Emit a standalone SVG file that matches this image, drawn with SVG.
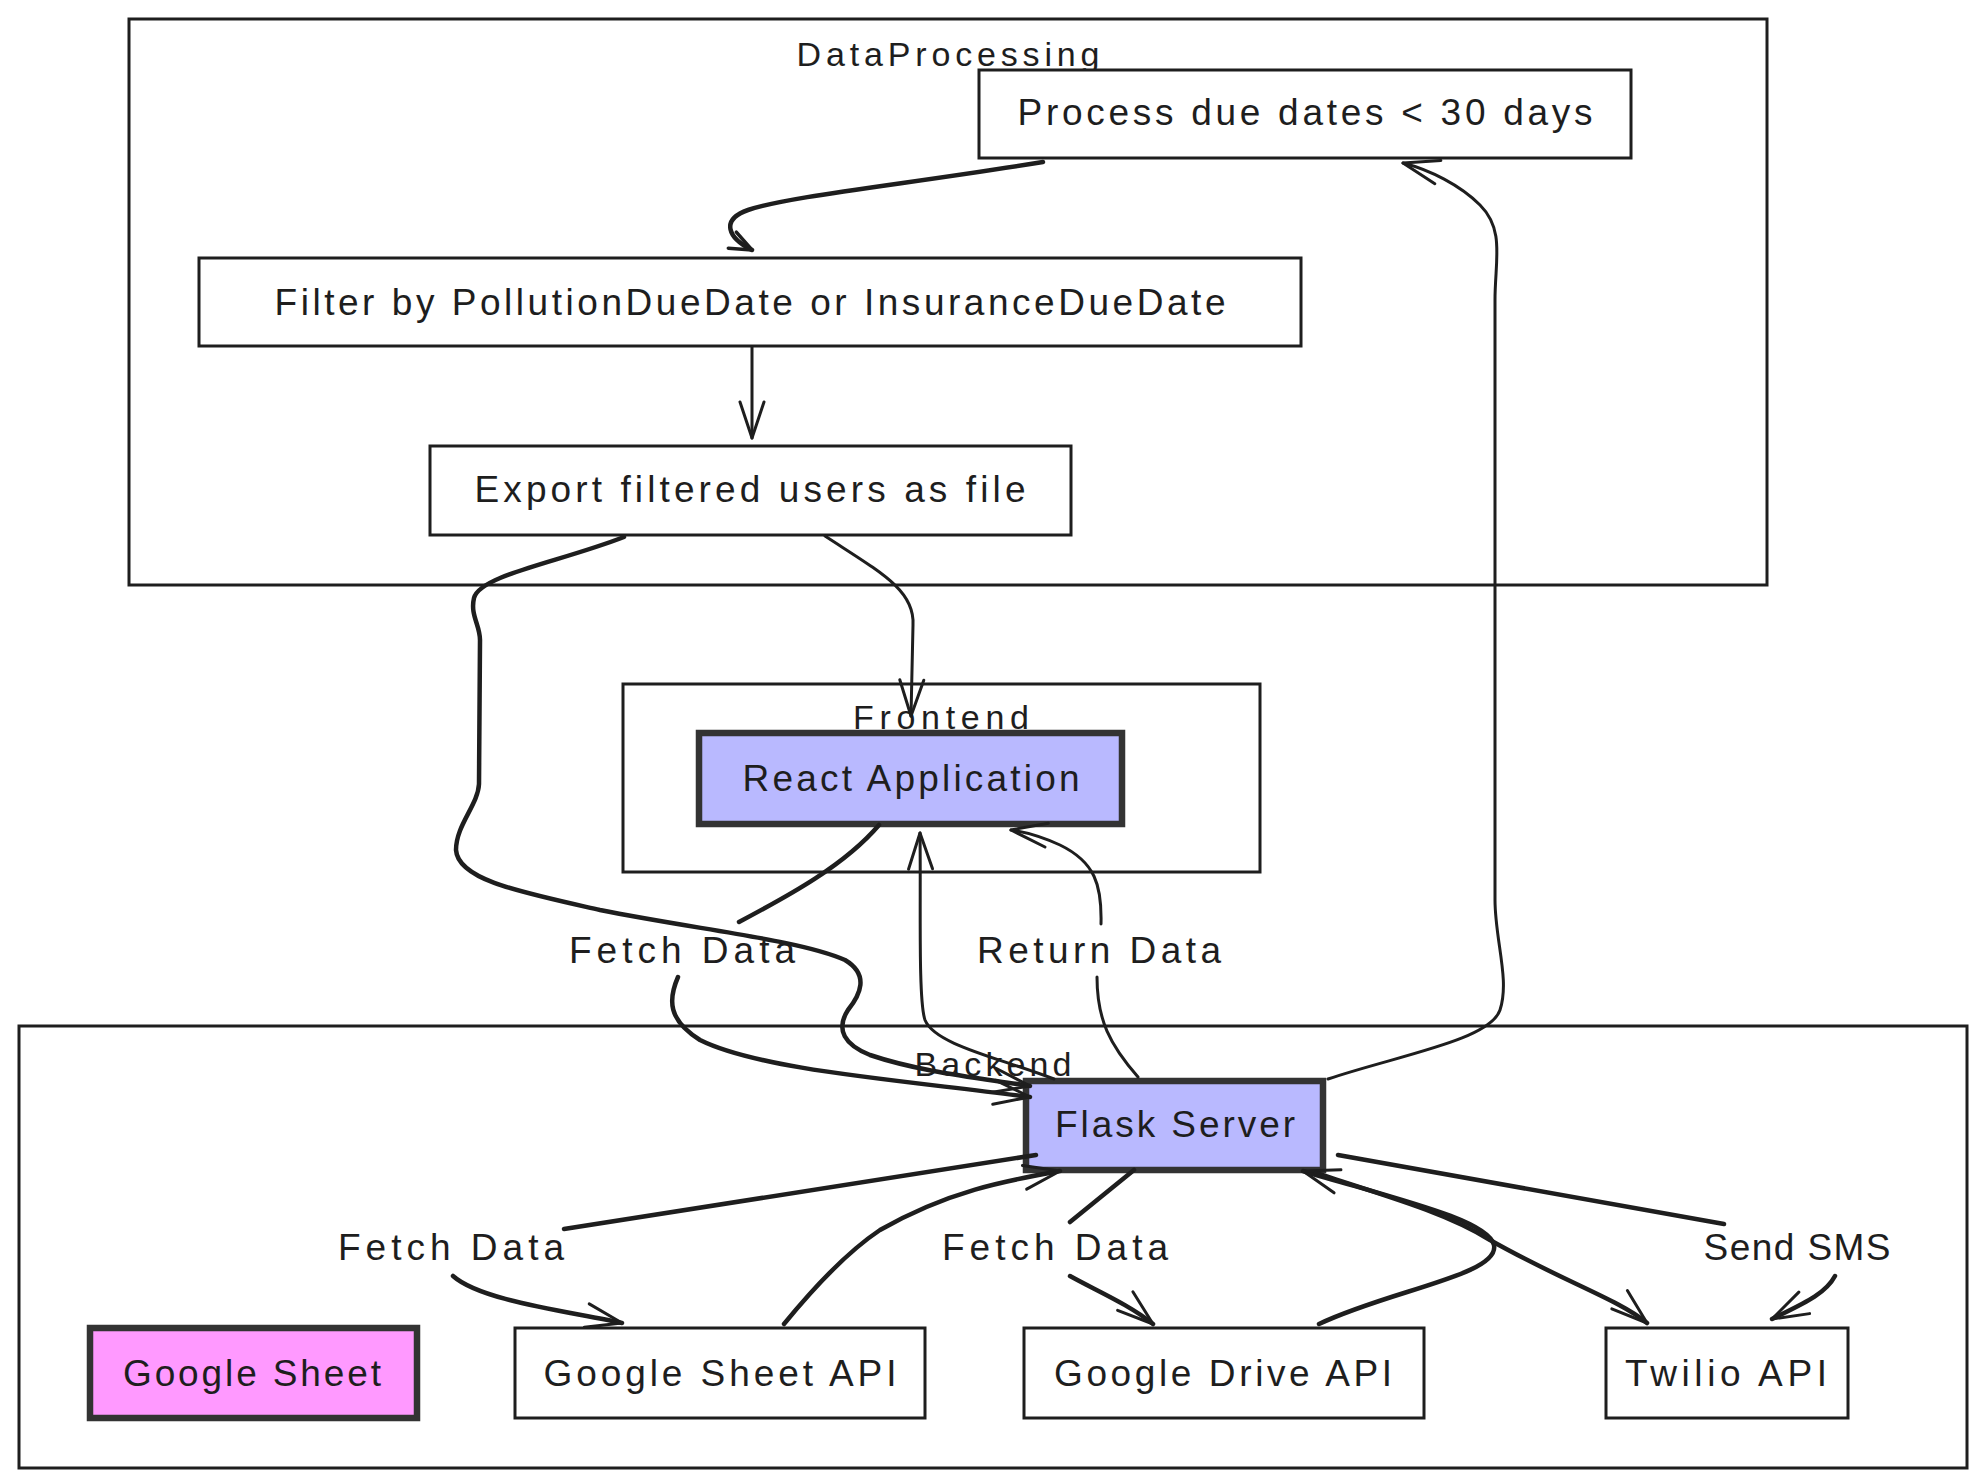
<svg xmlns="http://www.w3.org/2000/svg" width="1984" height="1484" viewBox="0 0 1984 1484">
<style>
  .bg { fill: #ffffff; }
  .cluster { fill: none; stroke: #1e1e1e; stroke-width: 3; }
  .node { fill: #ffffff; stroke: #1e1e1e; stroke-width: 3; }
  .blue { fill: #b9b9ff; stroke: #333333; stroke-width: 6.5; }
  .pink { fill: #ff99ff; stroke: #333333; stroke-width: 6.5; }
  .edge { fill: none; stroke: #1e1e1e; stroke-width: 3; stroke-linecap: round; stroke-linejoin: round; }
  .thick { stroke-width: 4.5; }
  text { font-family: "Liberation Sans", "DejaVu Sans", sans-serif; fill: #1e1e1e; text-anchor: middle; }
  .lbl { font-size: 37px; }
  .clbl { font-size: 34px; }
</style>
<defs>
  <marker id="arr" viewBox="-44 -22 48 44" refX="0" refY="0" markerWidth="48" markerHeight="44" markerUnits="userSpaceOnUse" orient="auto" overflow="visible">
    <path d="M-36,-12 L0,0 L-36,12" fill="none" stroke="#1e1e1e" stroke-width="3" stroke-linecap="round" stroke-linejoin="round"/>
  </marker>
  <marker id="arrS" viewBox="-30 -16 34 32" refX="0" refY="0" markerWidth="34" markerHeight="32" markerUnits="userSpaceOnUse" orient="auto" overflow="visible">
    <path d="M-22,-9 L0,0 L-22,9" fill="none" stroke="#1e1e1e" stroke-width="3.5" stroke-linecap="round" stroke-linejoin="round"/>
  </marker>
</defs>
<rect class="bg" x="0" y="0" width="1984" height="1484"/>

<g id="cluster-dataprocessing">
  <rect class="cluster" x="129" y="19" width="1638" height="566"/>
  <text class="clbl" x="948" y="66" textLength="303" lengthAdjust="spacing">DataProcessing</text>
</g>
<g id="cluster-frontend">
  <rect class="cluster" x="623" y="684" width="637" height="188"/>
  <text class="clbl" x="941" y="729" textLength="176" lengthAdjust="spacing">Frontend</text>
</g>
<g id="cluster-backend">
  <rect class="cluster" x="19" y="1026" width="1948" height="442"/>
  <text class="clbl" x="993" y="1076" textLength="157" lengthAdjust="spacing">Backend</text>
</g>

<g id="node-process">
  <rect class="node" x="979" y="70" width="652" height="88"/>
  <text class="lbl" x="1305" y="125" textLength="575" lengthAdjust="spacing">Process due dates &lt; 30 days</text>
</g>
<g id="node-filter">
  <rect class="node" x="199" y="258" width="1102" height="88"/>
  <text class="lbl" x="750" y="315" textLength="951" lengthAdjust="spacing">Filter by PollutionDueDate or InsuranceDueDate</text>
</g>
<g id="node-export">
  <rect class="node" x="430" y="446" width="641" height="89"/>
  <text class="lbl" x="750" y="502" textLength="551" lengthAdjust="spacing">Export filtered users as file</text>
</g>
<g id="node-react">
  <rect class="blue" x="699" y="733" width="423" height="91"/>
  <text class="lbl" x="911" y="791" textLength="337" lengthAdjust="spacing">React Application</text>
</g>
<g id="node-flask">
  <rect class="blue" x="1026" y="1081" width="297" height="89"/>
  <text class="lbl" x="1175" y="1137" textLength="240" lengthAdjust="spacing">Flask Server</text>
</g>
<g id="node-googlesheet">
  <rect class="pink" x="90" y="1328" width="327" height="90"/>
  <text class="lbl" x="252" y="1386" textLength="258" lengthAdjust="spacing">Google Sheet</text>
</g>
<g id="node-gsapi">
  <rect class="node" x="515" y="1328" width="410" height="90"/>
  <text class="lbl" x="720" y="1386" textLength="353" lengthAdjust="spacing">Google Sheet API</text>
</g>
<g id="node-gdapi">
  <rect class="node" x="1024" y="1328" width="400" height="90"/>
  <text class="lbl" x="1223" y="1386" textLength="338" lengthAdjust="spacing">Google Drive API</text>
</g>
<g id="node-twilio">
  <rect class="node" x="1606" y="1328" width="242" height="90"/>
  <text class="lbl" x="1726" y="1386" textLength="202" lengthAdjust="spacing">Twilio API</text>
</g>

<g id="connectors">
  <path class="edge thick" marker-end="url(#arrS)" d="M1043,162 C 900,185 790,196 748,210 C 720,220 728,238 752,250"/>
  <path class="edge" marker-end="url(#arr)" d="M752,347 L752,438"/>
  <path class="edge" marker-end="url(#arr)" d="M825,536 C 880,572 915,590 913,625 L911,716"/>
  <path class="edge thick" marker-end="url(#arr)" d="M624,537 C 560,562 480,575 474,598 C 470,615 480,625 480,640 L479,784 C 478,805 456,825 456,850 C 458,880 520,892 600,910 C 700,930 800,940 845,960 C 870,975 860,995 848,1010 C 835,1030 845,1045 870,1055 C 920,1072 980,1078 1030,1086"/>
  <path class="edge thick" marker-end="url(#arr)" d="M879,825 C 845,865 790,895 739,922 M678,977 C 668,1000 668,1020 700,1040 C 760,1070 900,1080 1030,1097"/>
  <text class="lbl" x="682" y="963" textLength="226" lengthAdjust="spacing">Fetch Data</text>
  <path class="edge" marker-end="url(#arr)" d="M1054,1079 C 1000,1058 935,1045 925,1020 C 918,1000 921,900 920,833"/>
  <path class="edge" marker-end="url(#arr)" d="M1138,1077 C 1110,1045 1097,1020 1097,977 M1101,924 C 1102,885 1095,862 1060,845 C 1040,836 1025,832 1011,830"/>
  <text class="lbl" x="1099" y="963" textLength="244" lengthAdjust="spacing">Return Data</text>
  <path class="edge" marker-end="url(#arr)" d="M1328,1079 C 1400,1055 1490,1040 1500,1010 C 1510,980 1495,940 1495,900 L1495,300 C 1495,260 1505,230 1480,205 C 1460,185 1430,170 1403,163"/>
  <path class="edge thick" marker-end="url(#arr)" d="M1036,1155 L564,1229 M453,1276 C 480,1300 560,1310 622,1323"/>
  <text class="lbl" x="451" y="1260" textLength="226" lengthAdjust="spacing">Fetch Data</text>
  <path class="edge thick" marker-end="url(#arr)" d="M784,1324 C 820,1280 850,1250 880,1230 C 950,1190 1010,1180 1060,1171"/>
  <path class="edge thick" marker-end="url(#arr)" d="M1134,1170 L1070,1222 M1070,1276 C 1095,1290 1130,1305 1153,1324"/>
  <text class="lbl" x="1055" y="1260" textLength="226" lengthAdjust="spacing">Fetch Data</text>
  <path class="edge thick" marker-end="url(#arr)" d="M1319,1324 C 1390,1290 1500,1275 1494,1245 C 1488,1220 1400,1200 1303,1171"/>
  <path class="edge thick" marker-end="url(#arr)" d="M1316,1173 C 1400,1200 1450,1215 1490,1240 C 1560,1280 1620,1300 1647,1323"/>
  <path class="edge thick" marker-end="url(#arr)" d="M1338,1155 L1724,1224 M1835,1276 C 1825,1295 1800,1305 1772,1319"/>
  <text class="lbl" x="1797" y="1260" textLength="187" lengthAdjust="spacing">Send SMS</text>
</g>
</svg>
